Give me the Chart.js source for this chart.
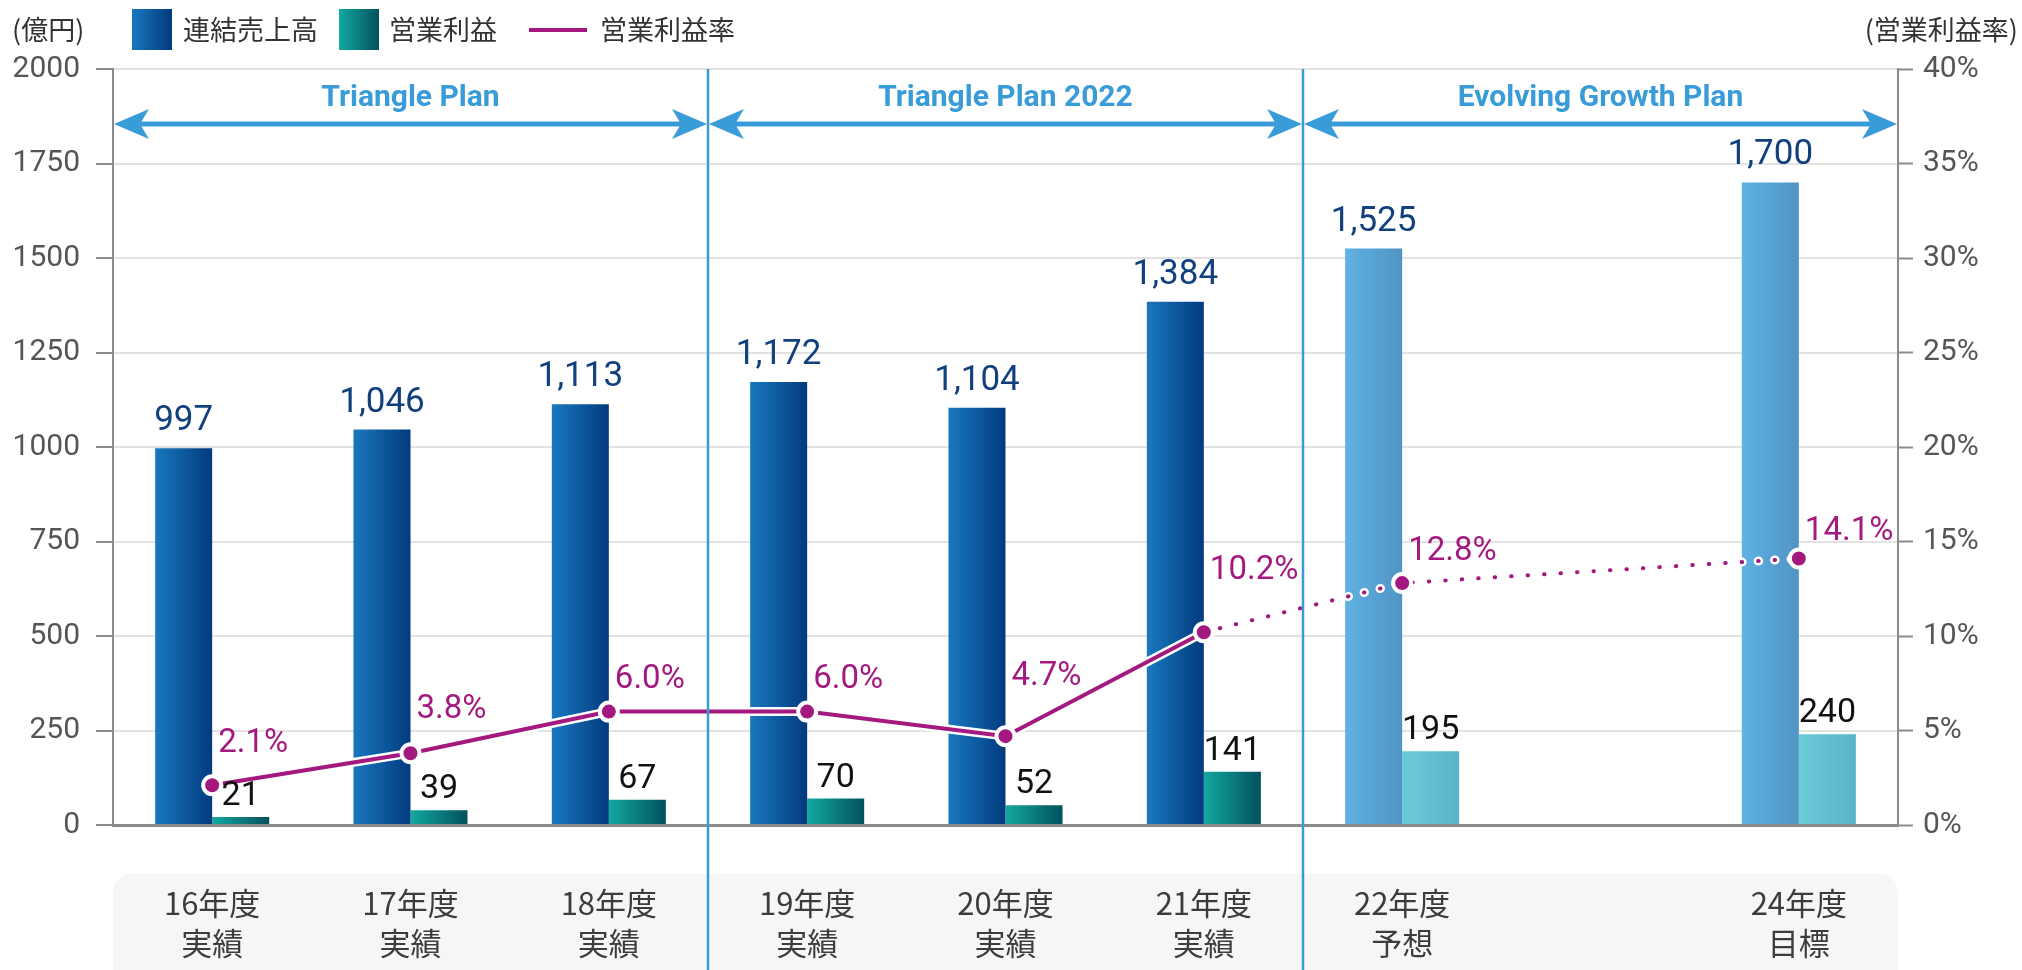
<!DOCTYPE html>
<html>
<head>
<meta charset="utf-8">
<script src="https://cdn.jsdelivr.net/npm/chart.js@4.4.1/dist/chart.umd.min.js"></script>
<style>
  html, body { margin: 0; padding: 0; background: #ffffff; }
  #wrap { width: 2022px; height: 970px; position: relative; }
</style>
</head>
<body>
<div id="wrap"><canvas id="c"></canvas></div>
<script>
// ---------------- data ----------------
const years   = ['16年度', '17年度', '18年度', '19年度', '20年度', '21年度', '22年度', '', '24年度'];
const status  = ['実績', '実績', '実績', '実績', '実績', '実績', '予想', '', '目標'];
const revenue = [997, 1046, 1113, 1172, 1104, 1384, 1525, null, 1700];
const profit  = [21, 39, 67, 70, 52, 141, 195, null, 240];
const margin  = [2.1, 3.8, 6.0, 6.0, 4.7, 10.2, 12.8, null, 14.1];
const seriesNames = ['連結売上高', '営業利益', '営業利益率'];
const plans     = ['Triangle Plan', 'Triangle Plan 2022', 'Evolving Growth Plan'];
const planStart = [0, 3, 6];
const leftTicks  = { min: 0, max: 2000, step: 250 };
const rightTicks = { min: 0, max: 40, step: 5 };
const leftUnit  = '(億円)';
const rightUnit = '(営業利益率)';

// ---------------- style ----------------
const CJK  = '"Noto Sans CJK JP", "Noto Sans", sans-serif';
const NUM  = 'Roboto, "Noto Sans", sans-serif';
const TICK = '"Liberation Sans Narrow", Roboto, sans-serif';
const C = {
  revA: ['#1a78be', '#023a7e'], revF: ['#5fb1e4', '#5094c3'],
  proA: ['#12a9a0', '#03505e'], proF: ['#6ccbd8', '#58b3c9'],
  line: '#a3197f', blue: '#3a9bd9', grid: '#e2e2e2', axis: '#8c8c8c',
  tick: '#555555', label: '#3c3c3c', revLabel: '#12407f', proLabel: '#111111'
};
const CAT_PCT = 0.575;
// label centre offset (px) of each % label above its point
const PCT_DY = [-42, -43, -32, -32, -59, -61, -31, 0, -27];

const isForecast = i => status[i] !== '実績';

function barFill(side, actualCols, forecastCols) {
  return (ctx) => {
    const chart = ctx.chart, xs = chart.scales.x, i = ctx.dataIndex;
    const cols = (i !== undefined && isForecast(i)) ? forecastCols : actualCols;
    if (!xs || i === undefined || !chart.chartArea) return cols[0];
    const step = xs.getPixelForValue(1) - xs.getPixelForValue(0);
    const w = step * CAT_PCT / 2;
    const c = xs.getPixelForValue(i);
    const left = side === 0 ? c - w : c;
    const g = chart.ctx.createLinearGradient(left, 0, left + w, 0);
    g.addColorStop(0, cols[0]);
    g.addColorStop(1, cols[1]);
    return g;
  };
}
const dotted = ctx => isForecast(ctx.p1DataIndex) ? [0.5, 16] : undefined;

// ---------------- plugins ----------------
const backgroundPlugin = {
  id: 'catBackground',
  beforeDraw(chart) {
    const c = chart.ctx, a = chart.chartArea;
    c.save();
    c.fillStyle = '#f6f6f6';
    c.beginPath();
    c.roundRect(a.left, a.bottom + 49, a.right - a.left, chart.height, 18);
    c.fill();
    c.restore();
  }
};

const labelPlugin = {
  id: 'valueLabels',
  afterDatasetsDraw(chart) {
    const c = chart.ctx;
    const lineMeta = chart.getDatasetMeta(0);
    const revMeta = chart.getDatasetMeta(2);
    const proMeta = chart.getDatasetMeta(3);
    c.save();
    c.textAlign = 'center';
    c.textBaseline = 'alphabetic';
    c.font = '35px ' + NUM;
    c.fillStyle = C.revLabel;
    revMeta.data.forEach((b, i) => {
      if (revenue[i] == null) return;
      c.fillText(revenue[i].toLocaleString('en-US'), b.x, b.y - 18);
    });
    c.font = '34px ' + NUM;
    c.fillStyle = C.proLabel;
    proMeta.data.forEach((b, i) => {
      if (profit[i] == null) return;
      c.fillText(String(profit[i]), b.x, b.y - 12);
    });
    c.textAlign = 'left';
    c.textBaseline = 'middle';
    c.font = '33px ' + NUM;
    c.fillStyle = C.line;
    lineMeta.data.forEach((p, i) => {
      if (margin[i] == null) return;
      c.fillText(margin[i].toFixed(1) + '%', p.x + 6, p.y + PCT_DY[i]);
    });
    c.restore();
  }
};

function drawArrowHead(c, x, y, dir) {
  c.beginPath();
  c.moveTo(x, y);
  c.lineTo(x + dir * 35, y - 15);
  c.lineTo(x + dir * 26, y);
  c.lineTo(x + dir * 35, y + 15);
  c.closePath();
  c.fill();
}

const planPlugin = {
  id: 'plans',
  afterDraw(chart) {
    const c = chart.ctx, a = chart.chartArea, xs = chart.scales.x;
    const boundary = k => (xs.getPixelForValue(k - 1) + xs.getPixelForValue(k)) / 2;
    const edges = planStart.map((s, k) => k === 0 ? a.left : boundary(s));
    edges.push(a.right);
    c.save();
    // section separators
    c.strokeStyle = C.blue;
    c.lineWidth = 2.5;
    for (let k = 1; k < edges.length - 1; k++) {
      c.beginPath();
      c.moveTo(edges[k], a.top);
      c.lineTo(edges[k], chart.height);
      c.stroke();
    }
    // arrows + names
    const ay = a.top + 55;
    c.fillStyle = C.blue;
    c.lineWidth = 5;
    for (let k = 0; k < plans.length; k++) {
      const x1 = edges[k] + 1, x2 = edges[k + 1] - 1;
      c.beginPath();
      c.moveTo(x1 + 26, ay);
      c.lineTo(x2 - 26, ay);
      c.stroke();
      drawArrowHead(c, x1, ay, 1);
      drawArrowHead(c, x2, ay, -1);
      c.font = 'bold 30px ' + NUM;
      c.textAlign = 'center';
      c.textBaseline = 'middle';
      c.fillText(plans[k], (edges[k] + edges[k + 1]) / 2, a.top + 29);
    }
    c.restore();
  }
};

const legendPlugin = {
  id: 'customLegend',
  afterDraw(chart) {
    const c = chart.ctx;
    const y = 30;
    c.save();
    c.font = '27px ' + CJK;
    c.fillStyle = '#333333';
    c.textBaseline = 'middle';
    c.textAlign = 'left';
    c.fillText(leftUnit, 12, y);
    // revenue box
    let g = c.createLinearGradient(132, 0, 172, 0);
    g.addColorStop(0, C.revA[0]); g.addColorStop(1, C.revA[1]);
    c.fillStyle = g;
    c.fillRect(132, 9, 40, 41);
    c.fillStyle = '#333333';
    c.fillText(seriesNames[0], 183, y);
    // profit box
    g = c.createLinearGradient(339, 0, 379, 0);
    g.addColorStop(0, C.proA[0]); g.addColorStop(1, C.proA[1]);
    c.fillStyle = g;
    c.fillRect(339, 9, 40, 41);
    c.fillStyle = '#333333';
    c.fillText(seriesNames[1], 389, y);
    // margin line
    c.strokeStyle = C.line;
    c.lineWidth = 4;
    c.beginPath();
    c.moveTo(529, y);
    c.lineTo(587, y);
    c.stroke();
    c.fillText(seriesNames[2], 600, y);
    c.textAlign = 'right';
    c.fillText(rightUnit, 2018, y);
    c.restore();
  }
};

// ---------------- chart ----------------
new Chart(document.getElementById('c'), {
  data: {
    labels: years.map((y, i) => [y, status[i]]),
    datasets: [
      {
        type: 'line', label: seriesNames[2], data: margin, yAxisID: 'y2', order: 0,
        borderColor: C.line, borderWidth: 4, borderCapStyle: 'round', tension: 0,
        pointRadius: 9, pointBorderWidth: 4, pointBackgroundColor: C.line, pointBorderColor: '#ffffff',
        spanGaps: true, segment: { borderDash: dotted }
      },
      {
        type: 'line', label: 'outline', data: margin, yAxisID: 'y2', order: 1,
        borderColor: '#ffffff', borderWidth: 9, borderCapStyle: 'round', tension: 0,
        pointRadius: 0, spanGaps: true, segment: { borderDash: dotted }
      },
      {
        type: 'bar', label: seriesNames[0], data: revenue, yAxisID: 'y', order: 2,
        backgroundColor: barFill(0, C.revA, C.revF),
        categoryPercentage: CAT_PCT, barPercentage: 1
      },
      {
        type: 'bar', label: seriesNames[1], data: profit, yAxisID: 'y', order: 3,
        backgroundColor: barFill(1, C.proA, C.proF),
        categoryPercentage: CAT_PCT, barPercentage: 1
      }
    ]
  },
  options: {
    responsive: true,
    maintainAspectRatio: false,
    animation: false,
    events: [],
    devicePixelRatio: 1,
    layout: { padding: { top: 69, left: 0, right: 0, bottom: 0 } },
    plugins: { legend: { display: false }, tooltip: { enabled: false } },
    scales: {
      x: {
        type: 'category', offset: true,
        grid: { display: false, drawTicks: false },
        border: { display: true, color: C.axis, width: 3 },
        ticks: {
          font: { family: CJK, size: 31, lineHeight: '40px' },
          color: C.label, padding: 58, maxRotation: 0, autoSkip: false
        },
        afterFit(s) { s.height = 145; }
      },
      y: {
        position: 'left', min: leftTicks.min, max: leftTicks.max,
        ticks: { stepSize: leftTicks.step, callback: v => String(v), font: { family: TICK, size: 30 }, color: C.tick, padding: 16 },
        grid: { color: C.grid, lineWidth: 2, tickColor: C.axis, tickLength: 17, tickWidth: 2 },
        border: { color: C.axis, width: 2 },
        afterFit(s) { s.width = 113; }
      },
      y2: {
        position: 'right', min: rightTicks.min, max: rightTicks.max,
        ticks: { stepSize: rightTicks.step, callback: v => v + '%', font: { family: TICK, size: 30 }, color: C.tick, padding: 10 },
        grid: { drawOnChartArea: false, tickColor: C.axis, tickLength: 15, tickWidth: 2 },
        border: { color: C.axis, width: 2 },
        afterFit(s) { s.width = 124; }
      }
    }
  },
  plugins: [backgroundPlugin, labelPlugin, planPlugin, legendPlugin]
});
</script>
</body>
</html>
